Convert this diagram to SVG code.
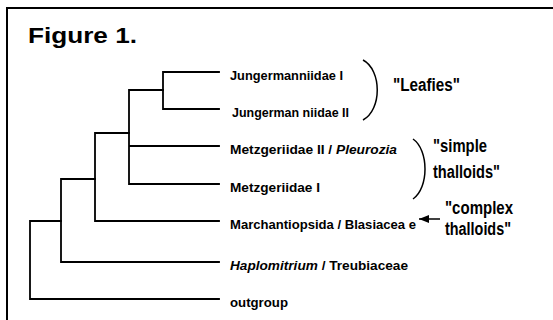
<svg xmlns="http://www.w3.org/2000/svg" width="553" height="320" viewBox="0 0 553 320">
  <style>
    .frame { fill: none; stroke: #000; stroke-width: 2; }
    .branch { fill: none; stroke: #000; stroke-width: 1.8; stroke-linecap: square; }
    .brace { fill: none; stroke: #000; stroke-width: 1.5; }
    .taxon { font-family: "Liberation Sans", Arial, sans-serif; font-size: 13px; font-weight: bold; fill: #000; }
    .taxon .it { font-style: italic; }
    .group { font-family: "Liberation Sans", Arial, sans-serif; font-size: 18px; font-weight: bold; fill: #000; }
    .title { font-family: "Liberation Sans", Arial, sans-serif; font-size: 22px; font-weight: bold; fill: #000; }
  </style>
  <defs>
    <marker id="arrowhead" viewBox="0 0 10 8" refX="10" refY="4" markerWidth="10" markerHeight="8" markerUnits="userSpaceOnUse" orient="auto">
      <path d="M0,0 L10,4 L0,8 Z" fill="#000"/>
    </marker>
  </defs>

  <rect width="553" height="320" fill="#fff"/>
  <!-- figure frame (right and bottom edges run off the page) -->
  <rect class="frame" x="7" y="8" width="560" height="330"/>

  <text class="title" x="28" y="43" textLength="109" lengthAdjust="spacingAndGlyphs">Figure 1.</text>

  <!-- tree branches -->
  <g id="connectors">
    <path class="branch" d="M163,72 H219 M163,109 H219 M163,72 V109"/>
    <path class="branch" d="M129,90 H163 M129,146 H219 M129,184 H219 M129,90 V184"/>
    <path class="branch" d="M95,133 H129 M95,221 H219 M95,133 V221"/>
    <path class="branch" d="M61,179 H95 M61,262 H219 M61,179 V262"/>
    <path class="branch" d="M30,221 H61 M30,299 H219 M30,221 V299"/>
    <path class="brace" d="M363,60 C382,70 382,110 363,120"/>
    <path class="brace" d="M413,139 C429,150 429,188 413,199"/>
    <line class="brace" x1="440" y1="219" x2="419" y2="219" marker-end="url(#arrowhead)"/>
  </g>

  <!-- taxa -->
  <g id="jungermanniidae-1"><text class="taxon" x="230" y="80" textLength="113" lengthAdjust="spacingAndGlyphs">Jungermanniidae I</text></g>
  <g id="jungermanniidae-2"><text class="taxon" x="232" y="117" textLength="117" lengthAdjust="spacingAndGlyphs">Jungerman niidae II</text></g>
  <g id="metzgeriidae-2"><text class="taxon" x="230" y="154" textLength="167" lengthAdjust="spacingAndGlyphs">Metzgeriidae II / <tspan class="it">Pleurozia</tspan></text></g>
  <g id="metzgeriidae-1"><text class="taxon" x="230" y="192" textLength="90" lengthAdjust="spacingAndGlyphs">Metzgeriidae I</text></g>
  <g id="marchantiopsida"><text class="taxon" x="230" y="229" textLength="186" lengthAdjust="spacingAndGlyphs">Marchantiopsida / Blasiacea e</text></g>
  <g id="haplomitrium"><text class="taxon" x="230" y="270" textLength="178" lengthAdjust="spacingAndGlyphs"><tspan class="it">Haplomitrium</tspan> / Treubiaceae</text></g>
  <g id="outgroup"><text class="taxon" x="230" y="307" textLength="58" lengthAdjust="spacingAndGlyphs">outgroup</text></g>

  <!-- group labels -->
  <g id="leafies"><text class="group" x="393" y="91" textLength="67" lengthAdjust="spacingAndGlyphs">"Leafies"</text></g>
  <g id="simple-thalloids">
    <text class="group" x="433" y="152" textLength="54" lengthAdjust="spacingAndGlyphs">"simple</text>
    <text class="group" x="433" y="178" textLength="67" lengthAdjust="spacingAndGlyphs">thalloids"</text>
  </g>
  <g id="complex-thalloids">
    <text class="group" x="445" y="214" textLength="68" lengthAdjust="spacingAndGlyphs">"complex</text>
    <text class="group" x="445" y="235" textLength="66" lengthAdjust="spacingAndGlyphs">thalloids"</text>
  </g>
</svg>
